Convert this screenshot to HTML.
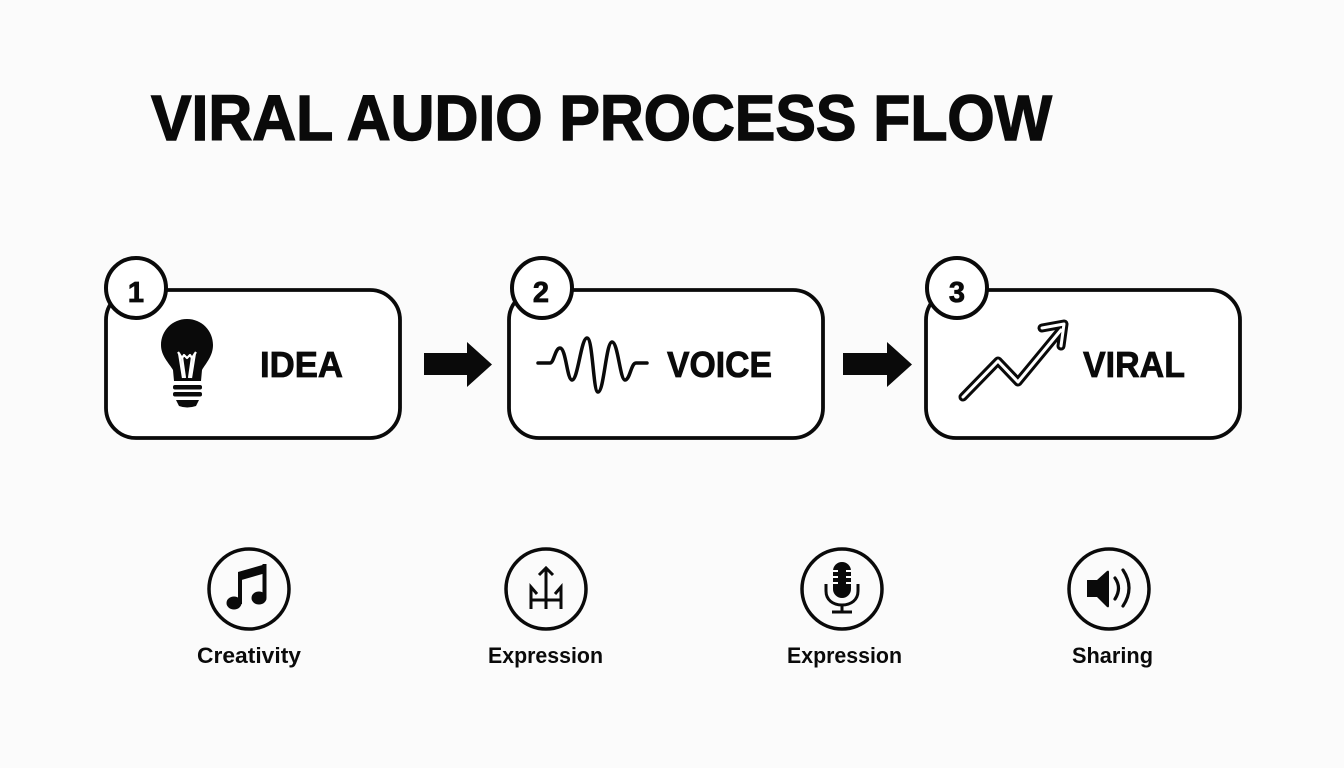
<!DOCTYPE html>
<html>
<head>
<meta charset="utf-8">
<style>
  html,body{margin:0;padding:0;background:#fbfbfb;}
  body{width:1344px;height:768px;overflow:hidden;}
  svg{display:block;}
  text{font-family:"Liberation Sans", Arial, sans-serif;font-weight:bold;fill:#0a0a0a;}
</style>
</head>
<body>
<svg width="1344" height="768" viewBox="0 0 1344 768" xmlns="http://www.w3.org/2000/svg">
  <rect x="0" y="0" width="1344" height="768" fill="#fbfbfb"/>

  <!-- Title -->
  <text x="151" y="140" font-size="64" textLength="901" lengthAdjust="spacingAndGlyphs" stroke="#0a0a0a" stroke-width="1.4">VIRAL AUDIO PROCESS FLOW</text>

  <!-- Box 1 -->
  <rect x="106" y="290" width="294" height="148" rx="30" ry="30" fill="#fff" stroke="#0a0a0a" stroke-width="3.8"/>
  <circle cx="136" cy="288" r="30" fill="#fff" stroke="#0a0a0a" stroke-width="4"/>
  <text x="136" y="302" font-size="29" text-anchor="middle" stroke="#0a0a0a" stroke-width="0.8">1</text>
  <!-- bulb -->
  <g>
    <path d="M187 319 C202 319 213 331 213 345 C213 356 206 363 202 370 L201 381 L174 381 L173 370 C169 363 161 356 161 345 C161 331 172 319 187 319 Z" fill="#0a0a0a"/>
    <path d="M178 352 L182 358 L184 355 L187 358 L190 355 L192 358 L196 352" fill="none" stroke="#fff" stroke-width="2.2" stroke-linejoin="round"/>
    <path d="M179 353 L183 378 M195 353 L191 378 M182 357 L185 378 M192 357 L189 378" fill="none" stroke="#fff" stroke-width="2.2"/>
    <rect x="173" y="385" width="29" height="4.5" rx="2" fill="#0a0a0a"/>
    <rect x="173" y="392" width="29" height="4.5" rx="2" fill="#0a0a0a"/>
    <path d="M176 400 H199 L196 406 Q187 409 179 406 Z" fill="#0a0a0a"/>
  </g>
  <text x="260" y="377" font-size="36" textLength="83" lengthAdjust="spacingAndGlyphs" stroke="#0a0a0a" stroke-width="0.8">IDEA</text>

  <!-- Arrow 1 -->
  <polygon points="424,353 467,353 467,342 492,364.5 467,387 467,375 424,375" fill="#0a0a0a"/>

  <!-- Box 2 -->
  <rect x="509" y="290" width="314" height="148" rx="30" ry="30" fill="#fff" stroke="#0a0a0a" stroke-width="3.8"/>
  <circle cx="542" cy="288" r="30" fill="#fff" stroke="#0a0a0a" stroke-width="4"/>
  <text x="541" y="302" font-size="29" text-anchor="middle" stroke="#0a0a0a" stroke-width="0.8">2</text>
  <path d="M538 363 H550 C554 363 555 348 560 348 C566 348 567 380 572 380 C578 380 581 338 587 338 C593 338 593 392 598 392 C604 392 606 342 612 342 C618 342 620 380 625 380 C630 380 631 363 636 363 H647" fill="none" stroke="#0a0a0a" stroke-width="3.5" stroke-linecap="round" stroke-linejoin="round"/>
  <text x="667" y="377" font-size="36" textLength="105" lengthAdjust="spacingAndGlyphs" stroke="#0a0a0a" stroke-width="0.8">VOICE</text>

  <!-- Arrow 2 -->
  <polygon points="843,353 887,353 887,342 912,364.5 887,387 887,375 843,375" fill="#0a0a0a"/>

  <!-- Box 3 -->
  <rect x="926" y="290" width="314" height="148" rx="30" ry="30" fill="#fff" stroke="#0a0a0a" stroke-width="3.8"/>
  <circle cx="957" cy="288" r="30" fill="#fff" stroke="#0a0a0a" stroke-width="4"/>
  <text x="957" y="302" font-size="29" text-anchor="middle" stroke="#0a0a0a" stroke-width="0.8">3</text>
  <!-- trend arrow (outlined) -->
  <g fill="none" stroke-linecap="round" stroke-linejoin="round">
    <path d="M963 397 L998 361 L1018 382 L1061 330 M1042 328 L1064 324 L1061 346" stroke="#0a0a0a" stroke-width="9"/>
    <path d="M963 397 L998 361 L1018 382 L1061 330 M1042 328 L1064 324 L1061 346" stroke="#fff" stroke-width="3"/>
  </g>
  <text x="1083" y="377" font-size="36" textLength="102" lengthAdjust="spacingAndGlyphs" stroke="#0a0a0a" stroke-width="0.8">VIRAL</text>

  <!-- Bottom icons -->
  <!-- Music -->
  <circle cx="249" cy="589" r="40" fill="none" stroke="#0a0a0a" stroke-width="3.5"/>
  <g fill="#0a0a0a">
    <polygon points="238,572 266,564 266,573 238,581"/>
    <rect x="238" y="572" width="4" height="32"/>
    <rect x="262.5" y="564" width="4" height="34"/>
    <ellipse cx="234" cy="603" rx="7.5" ry="6.5"/>
    <ellipse cx="259" cy="598" rx="7.5" ry="6.5"/>
  </g>
  <text x="197" y="663" font-size="22" textLength="104" lengthAdjust="spacingAndGlyphs">Creativity</text>

  <!-- Expression 1 -->
  <circle cx="546" cy="589" r="40" fill="none" stroke="#0a0a0a" stroke-width="3.5"/>
  <g fill="none" stroke="#0a0a0a" stroke-width="3" stroke-linecap="butt" stroke-linejoin="miter">
    <path d="M546 568 V609"/>
    <path d="M539 575 L546 568 L553 575"/>
    <path d="M530 600 H562"/>
    <path d="M531 609 V587 L537 594"/>
    <path d="M561 609 V587 L555 594"/>
  </g>
  <text x="488" y="663" font-size="22" textLength="115" lengthAdjust="spacingAndGlyphs">Expression</text>

  <!-- Mic -->
  <circle cx="842" cy="589" r="40" fill="none" stroke="#0a0a0a" stroke-width="3.5"/>
  <g>
    <rect x="833" y="562" width="18" height="36" rx="9" fill="#0a0a0a"/>
    <path d="M833 571 H838 M846 571 H851 M833 577 H838 M846 577 H851 M833 583 H838 M846 583 H851" stroke="#fff" stroke-width="2"/>
    <path d="M826 584 V591 C826 600 833 605 842 605 C851 605 858 600 858 591 V584" fill="none" stroke="#0a0a0a" stroke-width="3"/>
    <path d="M842 605 V612 M832 612 H852" fill="none" stroke="#0a0a0a" stroke-width="3"/>
  </g>
  <text x="787" y="663" font-size="22" textLength="115" lengthAdjust="spacingAndGlyphs">Expression</text>

  <!-- Speaker -->
  <circle cx="1109" cy="589" r="40" fill="none" stroke="#0a0a0a" stroke-width="3.5"/>
  <g>
    <path d="M1087 580 H1097 L1107 571 Q1109 570 1109 572 V606 Q1109 608 1107 607 L1097 597 H1087 Z" fill="#0a0a0a"/>
    <path d="M1115 578 Q1122 588 1115 599" fill="none" stroke="#0a0a0a" stroke-width="3.2" stroke-linecap="round"/>
    <path d="M1123 570 Q1135 588 1123 606" fill="none" stroke="#0a0a0a" stroke-width="3.2" stroke-linecap="round"/>
  </g>
  <text x="1072" y="663" font-size="22" textLength="81" lengthAdjust="spacingAndGlyphs">Sharing</text>
</svg>
</body>
</html>
